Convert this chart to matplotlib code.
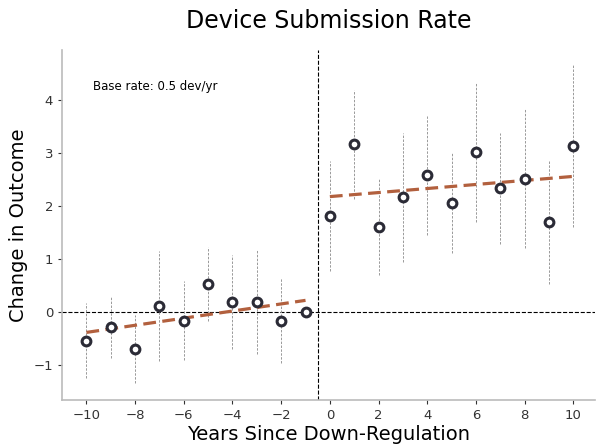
import numpy as np
import matplotlib
matplotlib.use("Agg")
import matplotlib.pyplot as plt

# Event-study estimates before and after down-regulation
years_pre = np.arange(-10, 0)
effect_pre = [-0.54, -0.28, -0.70, 0.11, -0.16, 0.53, 0.19, 0.19, -0.16, 0.00]
err_pre = [0.71, 0.58, 0.64, 1.04, 0.74, 0.70, 0.88, 0.99, 0.80, 0.00]

years_post = np.arange(0, 11)
effect_post = [1.81, 3.16, 1.61, 2.16, 2.58, 2.05, 3.01, 2.33, 2.51, 1.69, 3.13]
err_post = [1.04, 1.03, 0.91, 1.22, 1.12, 0.94, 1.32, 1.04, 1.31, 1.16, 1.52]

base_rate = 0.5

fig = plt.figure(figsize=(5.97, 4.47), dpi=100)
ax = fig.add_axes([0.104, 0.105, 0.893, 0.783])

for x, y, e in [(years_pre, effect_pre, err_pre), (years_post, effect_post, err_post)]:
    eb = ax.errorbar(x, y, yerr=e, fmt='none', ecolor='#999999', elinewidth=0.7, zorder=2)
    eb[2][0].set_linestyle((0, (2.5, 1.5)))
    ax.plot(x, y, 'o', ms=6.3, mfc='white', mec='#2b2b36', mew=2.2, zorder=4)
    slope, icept = np.polyfit(x, y, 1)
    ax.plot(x, slope * x + icept, '--', color='#b2603e', lw=2.3, dashes=(4, 2), zorder=3)

ax.axhline(0, color='black', ls='--', lw=0.8, zorder=1)
ax.axvline(-0.5, color='black', ls='--', lw=0.8, zorder=1)

ax.set_xlim(-11, 10.9)
ax.set_ylim(-1.66, 4.94)
ax.set_xticks(np.arange(-10, 11, 2))
ax.set_yticks(np.arange(-1, 5))

for s in ['top', 'right']:
    ax.spines[s].set_visible(False)
for s in ['left', 'bottom']:
    ax.spines[s].set_color('#bbbbbb')
    ax.spines[s].set_linewidth(1.2)
ax.tick_params(colors='#333333', labelsize=9.5, length=3)

ax.text(0.058, 0.897, f'Base rate: {base_rate} dev/yr',
        transform=ax.transAxes, fontsize=8.5, va='center', ha='left')

ax.set_xlabel('Years Since Down-Regulation', fontsize=14, labelpad=2)
ax.set_ylabel('Change in Outcome', fontsize=14)
ax.set_title('Device Submission Rate', fontsize=17, pad=16)

fig.savefig('out.png', dpi=100)
